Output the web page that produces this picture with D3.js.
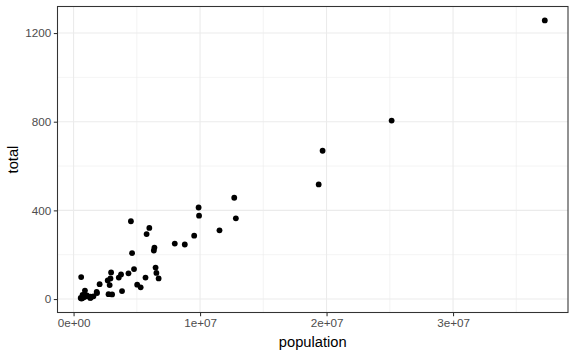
<!DOCTYPE html>
<html><head><meta charset="utf-8">
<script src="https://cdn.jsdelivr.net/npm/d3@7"></script>
<style>body{margin:0;background:#fff}svg{display:block;font-family:"Liberation Sans",Arial,sans-serif}</style>
</head><body><svg id="c" width="576" height="355"></svg>
<script>
const population = [4779736,710231,6392017,2915918,37253956,5029196,3574097,897934,601723,19687653,9920000,1360301,1567582,12830632,6483802,3046355,2853118,4339367,4533372,1328361,5773552,6547629,9883640,5303925,2967297,5988927,989415,1826341,2700551,1316470,8791894,2059179,19378102,9535483,672591,11536504,3751351,3831074,12702379,1052567,4625364,814180,6346105,25145561,2763885,625741,8001024,6724540,1852994,5686986,563626];
const total = [135,19,232,93,1257,65,97,38,99,669,376,7,12,364,142,21,63,116,351,11,293,118,413,53,120,321,12,32,84,5,246,67,517,286,4,310,111,36,457,16,207,8,219,805,22,2,250,93,27,97,5];
const xTicks = [0,1e7,2e7,3e7];
const xTickLabels = ["0e+00","1e+07","2e+07","3e+07"];
const xMinor = [5e6,1.5e7,2.5e7,3.5e7];
const yTicks = [0,400,800,1200];
const yTickLabels = ["0","400","800","1200"];
const yMinor = [200,600,1000];

const svg = d3.select("#c");
const L=57.5,R=568,T=6.5,B=312.5;
const xe=d3.extent(population), ye=d3.extent(total);
const xp=(xe[1]-xe[0])*0.05, yp=(ye[1]-ye[0])*0.05;
const x=d3.scaleLinear().domain([xe[0]-xp,xe[1]+xp]).range([L,R]);
const y=d3.scaleLinear().domain([ye[0]-yp,ye[1]+yp]).range([B,T]);

const g=svg.append("g");
g.selectAll(".xm").data(xMinor).join("line").attr("x1",d=>x(d)).attr("x2",d=>x(d)).attr("y1",T).attr("y2",B).attr("stroke","#EBEBEB").attr("stroke-width",0.53);
g.selectAll(".ym").data(yMinor).join("line").attr("y1",d=>y(d)).attr("y2",d=>y(d)).attr("x1",L).attr("x2",R).attr("stroke","#EBEBEB").attr("stroke-width",0.53);
g.selectAll(".xM").data(xTicks).join("line").attr("x1",d=>x(d)).attr("x2",d=>x(d)).attr("y1",T).attr("y2",B).attr("stroke","#EBEBEB").attr("stroke-width",1.07);
g.selectAll(".yM").data(yTicks).join("line").attr("y1",d=>y(d)).attr("y2",d=>y(d)).attr("x1",L).attr("x2",R).attr("stroke","#EBEBEB").attr("stroke-width",1.07);

svg.append("g").selectAll("circle").data(population.map((p,i)=>[p,total[i]])).join("circle")
 .attr("cx",d=>x(d[0])).attr("cy",d=>y(d[1])).attr("r",2.9).attr("fill","#000");

svg.append("rect").attr("x",L).attr("y",T).attr("width",R-L).attr("height",B-T).attr("fill","none").attr("stroke","#333333").attr("stroke-width",1.07);

const xa=svg.append("g").attr("transform",`translate(0,${B})`)
 .call(d3.axisBottom(x).tickValues(xTicks).tickFormat((d,i)=>xTickLabels[i]).tickSize(3.7).tickPadding(2.5));
const ya=svg.append("g").attr("transform",`translate(${L},0)`)
 .call(d3.axisLeft(y).tickValues(yTicks).tickFormat((d,i)=>yTickLabels[i]).tickSize(3.7).tickPadding(2.5));
[xa,ya].forEach(a=>{a.select(".domain").remove();a.selectAll(".tick line").attr("stroke","#333333").attr("stroke-width",1.07);
 a.selectAll(".tick text").attr("fill","#4D4D4D").style("font-size","11.7px").style("font-family","'Liberation Sans',Arial,sans-serif");});

svg.append("text").attr("x",(L+R)/2).attr("y",347).attr("text-anchor","middle").style("font-size","14.7px").attr("fill","#000").text("population");
svg.append("text").attr("transform",`translate(18,${(T+B)/2}) rotate(-90)`).attr("text-anchor","middle").style("font-size","14.7px").attr("fill","#000").text("total");
</script></body></html>
